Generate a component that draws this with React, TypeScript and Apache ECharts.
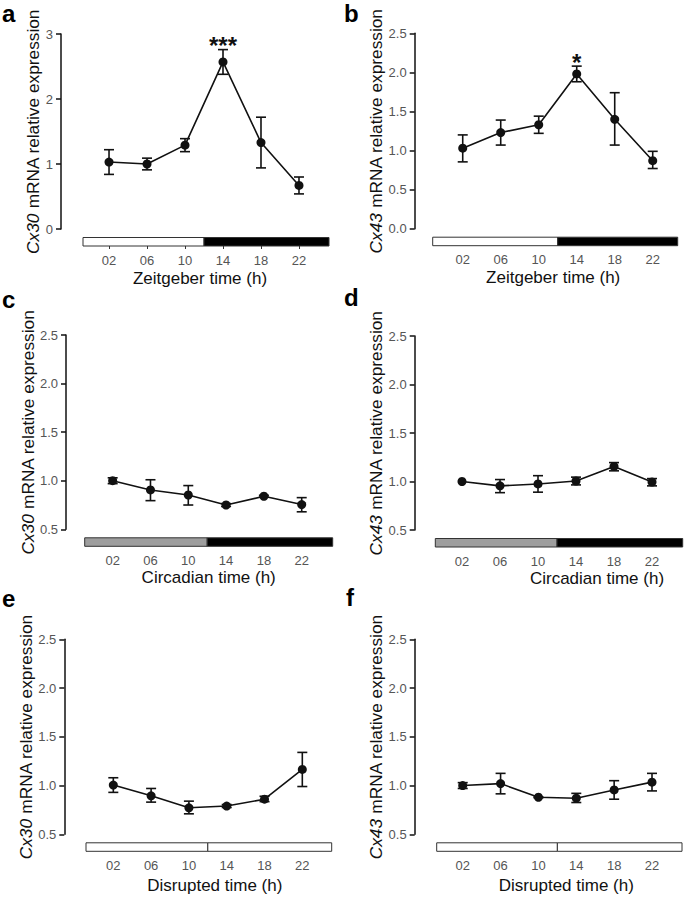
import React, { useEffect, useRef } from "react";
import * as echarts from "echarts";

// ---------- data ----------
const hours = [2, 6, 10, 14, 18, 22];
const hourLabels = ["02", "06", "10", "14", "18", "22"];
const phaseBoundary = 12;

// a: Cx30, Zeitgeber time
const cx30ZtMean = [1.03, 1.0, 1.29, 2.57, 1.33, 0.67];
const cx30ZtLow = [0.84, 0.91, 1.19, 2.38, 0.94, 0.54];
const cx30ZtHigh = [1.22, 1.09, 1.39, 2.76, 1.72, 0.8];
const cx30ZtSig = ["", "", "", "***", "", ""];

// b: Cx43, Zeitgeber time
const cx43ZtMean = [1.03, 1.23, 1.33, 1.98, 1.4, 0.87];
const cx43ZtLow = [0.855, 1.07, 1.22, 1.88, 1.07, 0.77];
const cx43ZtHigh = [1.2, 1.39, 1.44, 2.08, 1.74, 0.99];
const cx43ZtSig = ["", "", "", "*", "", ""];

// c: Cx30, Circadian time
const cx30CtMean = [1.0, 0.905, 0.853, 0.75, 0.84, 0.755];
const cx30CtLow = [0.97, 0.795, 0.75, 0.735, 0.83, 0.68];
const cx30CtHigh = [1.03, 1.01, 0.95, 0.765, 0.85, 0.826];

// d: Cx43, Circadian time
const cx43CtMean = [1.0, 0.955, 0.975, 1.005, 1.155, 0.995];
const cx43CtLow = [1.0, 0.885, 0.89, 0.965, 1.11, 0.955];
const cx43CtHigh = [1.0, 1.02, 1.06, 1.045, 1.195, 1.03];

// e: Cx30, Disrupted time
const cx30DtMean = [1.005, 0.895, 0.772, 0.79, 0.86, 1.165];
const cx30DtLow = [0.93, 0.83, 0.71, 0.775, 0.835, 0.99];
const cx30DtHigh = [1.08, 0.97, 0.84, 0.805, 0.89, 1.34];

// f: Cx43, Disrupted time
const cx43DtMean = [1.0, 1.02, 0.88, 0.87, 0.955, 1.035];
const cx43DtLow = [0.97, 0.915, 0.875, 0.826, 0.86, 0.945];
const cx43DtHigh = [1.03, 1.125, 0.885, 0.92, 1.05, 1.125];

const noSig = ["", "", "", "", "", ""];

// phase kinds before / after the boundary
const ztPhases = ["light", "dark"];
const ctPhases = ["subjective", "dark"];
const dtPhases = ["disrupted", "disrupted"];

// y-axis scales
const yScaleZtCx30 = { min: 0, max: 3, step: 1, decimals: 0 };
const yScaleOther = { min: 0, max: 2.5, step: 0.5, decimals: 1 };
const yScaleFrom05 = { min: 0.5, max: 2.5, step: 0.5, decimals: 1 };

// ---------- styles / layout ----------
const FONT = '"Liberation Sans", Arial, Helvetica, sans-serif';
const INK = "#111";
const TICK_GREY = "#555";
const PHASE_FILL: Record<string, string> = {
  light: "#ffffff",
  dark: "#000000",
  subjective: "#9e9e9e",
  disrupted: "#ffffff",
};
const BAR_GAP = 8.5;
const BAR_H = 8.5;
const YTITLE_SIZE = 17.3;

const panels = [
  {
    letter: "a", gene: "Cx30", xTitle: "Zeitgeber time (h)",
    mean: cx30ZtMean, low: cx30ZtLow, high: cx30ZtHigh, sig: cx30ZtSig,
    phases: ztPhases, y: yScaleZtCx30,
    L: { left: 83, top: 34, width: 246, height: 195, axisX: 61, xMin: -0.74, xMax: 25.16, yNameGap: 16, titleShift: -6, titleGap: 23.5, ticks: true, lx: 2, ly: 22 },
  },
  {
    letter: "b", gene: "Cx43", xTitle: "Zeitgeber time (h)",
    mean: cx43ZtMean, low: cx43ZtLow, high: cx43ZtHigh, sig: cx43ZtSig,
    phases: ztPhases, y: yScaleOther,
    L: { left: 432.7, top: 33.3, width: 245, height: 195.4, axisX: 414.7, xMin: -1.16, xMax: 24.63, yNameGap: 27, titleShift: -2, titleGap: 23.5, ticks: false, lx: 344, ly: 22 },
  },
  {
    letter: "c", gene: "Cx30", xTitle: "Circadian time (h)",
    mean: cx30CtMean, low: cx30CtLow, high: cx30CtHigh, sig: noSig,
    phases: ctPhases, y: yScaleFrom05,
    L: { left: 84.7, top: 335, width: 248, height: 194.3, axisX: 66, xMin: -0.96, xMax: 25.28, yNameGap: 21, titleShift: 0, titleGap: 22.5, ticks: false, lx: 2, ly: 308 },
  },
  {
    letter: "d", gene: "Cx43", xTitle: "Circadian time (h)",
    mean: cx43CtMean, low: cx43CtLow, high: cx43CtHigh, sig: noSig,
    phases: ctPhases, y: yScaleFrom05,
    L: { left: 435.3, top: 336, width: 247.4, height: 194, axisX: 414.7, xMin: -0.81, xMax: 25.23, yNameGap: 27, titleShift: 38, titleGap: 22.5, ticks: false, lx: 344, ly: 306 },
  },
  {
    letter: "e", gene: "Cx30", xTitle: "Disrupted time (h)",
    mean: cx30DtMean, low: cx30DtLow, high: cx30DtHigh, sig: noSig,
    phases: dtPhases, y: yScaleFrom05,
    L: { left: 86, top: 639.3, width: 245.7, height: 195, axisX: 64.3, xMin: -0.89, xMax: 25.11, yNameGap: 21, titleShift: 6, titleGap: 25.5, ticks: false, lx: 2, ly: 607 },
  },
  {
    letter: "f", gene: "Cx43", xTitle: "Disrupted time (h)",
    mean: cx43DtMean, low: cx43DtLow, high: cx43DtHigh, sig: noSig,
    phases: dtPhases, y: yScaleFrom05,
    L: { left: 436.7, top: 639.3, width: 245.3, height: 195, axisX: 414.7, xMin: -0.75, xMax: 25.17, yNameGap: 27, titleShift: 7, titleGap: 25.5, ticks: false, lx: 346, ly: 606 },
  },
];

function buildOption() {
  const grid: any[] = [];
  const xAxis: any[] = [];
  const yAxis: any[] = [];
  const series: any[] = [];
  const graphic: any[] = [];

  panels.forEach((p, i) => {
    const L = p.L;
    grid.push({ left: L.left, top: L.top, width: L.width, height: L.height, containLabel: false });

    const shift = L.titleShift;
    xAxis.push({
      gridIndex: i,
      type: "value",
      min: L.xMin,
      max: L.xMax,
      offset: BAR_GAP + BAR_H,
      splitLine: { show: false },
      axisLine: { show: false, onZero: false },
      axisTick: { show: L.ticks, customValues: hours, length: 3, lineStyle: { color: "#333", width: 1 } },
      axisLabel: {
        customValues: hours,
        formatter: (v: number) => {
          const k = hours.indexOf(Math.round(v));
          return k >= 0 ? hourLabels[k] : "";
        },
        color: TICK_GREY,
        fontSize: 13,
        fontFamily: FONT,
        margin: 7.5,
      },
      name: p.xTitle,
      nameLocation: "middle",
      nameGap: L.titleGap,
      nameTextStyle: {
        fontSize: 17,
        fontFamily: FONT,
        color: INK,
        padding: shift >= 0 ? [0, 0, 0, 2 * shift] : [0, -2 * shift, 0, 0],
      },
    });

    yAxis.push({
      gridIndex: i,
      type: "value",
      min: p.y.min,
      max: p.y.max,
      interval: p.y.step,
      offset: L.left - L.axisX,
      splitLine: { show: false },
      axisLine: { show: true, onZero: false, lineStyle: { color: INK, width: 1.5 } },
      axisTick: { show: true, inside: false, length: 5, lineStyle: { color: INK, width: 1.5 } },
      axisLabel: {
        formatter: (v: number) => v.toFixed(p.y.decimals),
        color: TICK_GREY,
        fontSize: 13,
        fontFamily: FONT,
        margin: 8,
      },
      name: `{i|${p.gene}} mRNA relative expression`,
      nameLocation: "middle",
      nameGap: L.yNameGap,
      nameTextStyle: {
        fontSize: YTITLE_SIZE,
        fontFamily: FONT,
        color: INK,
        rich: {
          i: { fontStyle: "italic", fontSize: YTITLE_SIZE, fontFamily: FONT, color: INK },
        },
      },
    });

    // light/dark phase bar
    const phaseData = [
      [L.xMin, phaseBoundary, 0],
      [phaseBoundary, L.xMax, 1],
    ];
    series.push({
      type: "custom",
      xAxisIndex: i,
      yAxisIndex: i,
      silent: true,
      clip: false,
      encode: { x: [0, 1] },
      data: phaseData,
      renderItem: (params: any, api: any) => {
        const cs = params.coordSys;
        const x0 = api.coord([api.value(0), p.y.min])[0];
        const x1 = api.coord([api.value(1), p.y.min])[0];
        const kind = p.phases[params.dataIndex];
        return {
          type: "rect",
          shape: { x: x0, y: cs.y + cs.height + BAR_GAP, width: x1 - x0, height: BAR_H },
          style: { fill: PHASE_FILL[kind], stroke: "#333", lineWidth: 1 },
        };
      },
    });

    // error bars
    series.push({
      type: "custom",
      xAxisIndex: i,
      yAxisIndex: i,
      silent: true,
      clip: false,
      encode: { x: 0, y: [1, 2] },
      data: hours.map((h, k) => [h, p.low[k], p.high[k]]),
      z: 3,
      renderItem: (params: any, api: any) => {
        const x = api.value(0);
        const lo = api.coord([x, api.value(1)]);
        const hi = api.coord([x, api.value(2)]);
        const cap = 5;
        const style = { stroke: INK, lineWidth: 1.6 };
        if (Math.abs(hi[1] - lo[1]) < 0.5) return null;
        return {
          type: "group",
          children: [
            { type: "line", shape: { x1: lo[0], y1: lo[1], x2: hi[0], y2: hi[1] }, style },
            { type: "line", shape: { x1: lo[0] - cap, y1: lo[1], x2: lo[0] + cap, y2: lo[1] }, style },
            { type: "line", shape: { x1: hi[0] - cap, y1: hi[1], x2: hi[0] + cap, y2: hi[1] }, style },
          ],
        };
      },
    });

    // mean line with markers
    series.push({
      type: "line",
      xAxisIndex: i,
      yAxisIndex: i,
      data: hours.map((h, k) => [h, p.mean[k]]),
      symbol: "circle",
      symbolSize: 9,
      itemStyle: { color: INK },
      lineStyle: { color: INK, width: 1.6 },
      z: 4,
      silent: true,
    });

    // significance stars
    if (p.sig.some((s) => s)) {
      series.push({
        type: "custom",
        xAxisIndex: i,
        yAxisIndex: i,
        silent: true,
        clip: false,
        encode: { x: 0, y: 1 },
        data: hours.map((h, k) => [h, p.high[k]]),
        z: 5,
        renderItem: (params: any, api: any) => {
          const s = p.sig[params.dataIndex];
          if (!s) return null;
          const pt = api.coord([api.value(0), api.value(1)]);
          return {
            type: "text",
            x: pt[0],
            y: pt[1] - 4,
            style: {
              text: s,
              fontSize: 24,
              fontWeight: "bold",
              fontFamily: FONT,
              fill: INK,
              align: "center",
              verticalAlign: "middle",
            },
          };
        },
      });
    }

    graphic.push({
      type: "text",
      x: L.lx,
      y: L.ly - 8.4,
      style: {
        text: p.letter,
        fontSize: 24,
        fontWeight: "bold",
        fontFamily: FONT,
        fill: "#000",
        verticalAlign: "middle",
      },
    });
  });

  return { animation: false, backgroundColor: "#ffffff", grid, xAxis, yAxis, series, graphic };
}

export default function App() {
  const ref = useRef<HTMLDivElement>(null);
  useEffect(() => {
    document.body.style.margin = "0";
    if (!ref.current) return;
    const chart = echarts.init(ref.current, undefined, { renderer: "svg" });
    chart.setOption(buildOption() as any);
    return () => {
      chart.dispose();
    };
  }, []);
  return <div ref={ref} style={{ width: 685, height: 898 }} />;
}
